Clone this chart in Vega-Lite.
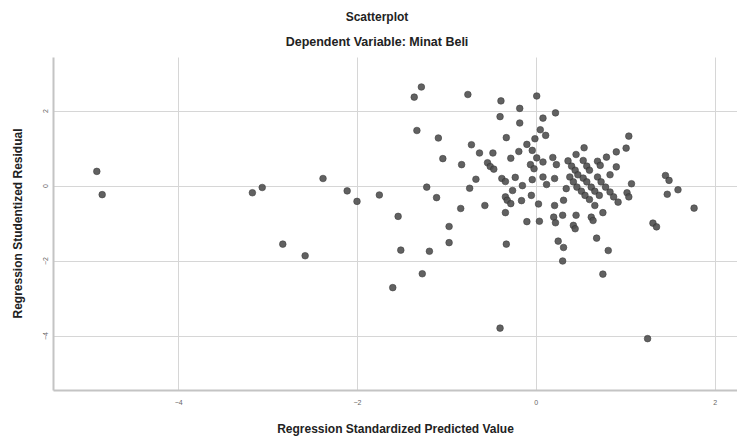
{
  "$schema": "https://vega.github.io/schema/vega-lite/v6.json",
  "autosize": "none",
  "width": 684,
  "height": 333,
  "padding": {"left": 53, "top": 57, "right": 0, "bottom": 46},
  "background": "white",
  "config": {
    "view": {"stroke": null},
    "font": "Liberation Sans"
  },
  "title": {
    "text": "Scatterplot",
    "subtitle": "Dependent Variable: Minat Beli",
    "anchor": "middle",
    "frame": "group",
    "dx": -18,
    "offset": 8,
    "fontSize": 12,
    "fontWeight": "bold",
    "color": "#222222",
    "subtitleFontSize": 12.5,
    "subtitleFontWeight": "bold",
    "subtitleColor": "#222222",
    "subtitlePadding": 12
  },
  "data": {
    "values": [
      {"x": -4.91, "y": 0.38}, {"x": -4.85, "y": -0.24}, {"x": -3.17, "y": -0.19}, {"x": -3.06, "y": -0.05},
      {"x": -2.83, "y": -1.56}, {"x": -2.58, "y": -1.87}, {"x": -2.38, "y": 0.19}, {"x": -2.11, "y": -0.14},
      {"x": -2.0, "y": -0.42}, {"x": -1.75, "y": -0.25}, {"x": -1.54, "y": -0.82}, {"x": -1.51, "y": -1.72},
      {"x": -1.6, "y": -2.72}, {"x": -1.36, "y": 2.36}, {"x": -1.33, "y": 1.47}, {"x": -1.28, "y": 2.63},
      {"x": -1.27, "y": -2.35}, {"x": -1.22, "y": -0.04}, {"x": -1.19, "y": -1.75}, {"x": -1.11, "y": -0.32},
      {"x": -1.09, "y": 1.27}, {"x": -1.04, "y": 0.72}, {"x": -0.97, "y": -1.09}, {"x": -0.97, "y": -1.52},
      {"x": -0.84, "y": -0.61}, {"x": -0.83, "y": 0.56}, {"x": -0.76, "y": 2.43}, {"x": -0.74, "y": -0.07},
      {"x": -0.72, "y": 1.09}, {"x": -0.67, "y": 0.17}, {"x": -0.63, "y": 0.87}, {"x": -0.57, "y": -0.53},
      {"x": -0.54, "y": 0.61}, {"x": -0.51, "y": 0.51}, {"x": -0.48, "y": 0.87}, {"x": -0.47, "y": 0.44},
      {"x": -0.4, "y": 1.84}, {"x": -0.39, "y": 2.26}, {"x": -0.4, "y": -3.8}, {"x": -0.38, "y": 0.19},
      {"x": -0.34, "y": 0.11}, {"x": -0.34, "y": -0.3}, {"x": -0.34, "y": -0.72}, {"x": -0.33, "y": 1.28},
      {"x": -0.33, "y": -1.56}, {"x": -0.32, "y": -0.39}, {"x": -0.28, "y": 0.73}, {"x": -0.28, "y": -0.48},
      {"x": -0.26, "y": -0.13}, {"x": -0.23, "y": 0.22}, {"x": -0.19, "y": 0.91}, {"x": -0.18, "y": 2.06},
      {"x": -0.18, "y": 1.67}, {"x": -0.16, "y": -0.4}, {"x": -0.15, "y": 0.0}, {"x": -0.1, "y": 1.1},
      {"x": -0.1, "y": -0.96}, {"x": -0.06, "y": 0.56}, {"x": -0.05, "y": -0.26}, {"x": -0.04, "y": 0.94},
      {"x": -0.04, "y": 0.16}, {"x": -0.02, "y": 0.45}, {"x": -0.01, "y": 1.25}, {"x": 0.01, "y": 2.39},
      {"x": 0.01, "y": 0.74}, {"x": 0.03, "y": -0.49}, {"x": 0.04, "y": -0.95}, {"x": 0.05, "y": 1.49},
      {"x": 0.08, "y": 1.8}, {"x": 0.08, "y": 0.63}, {"x": 0.08, "y": 0.23}, {"x": 0.11, "y": 1.34},
      {"x": 0.12, "y": 0.03}, {"x": 0.22, "y": 1.94}, {"x": 0.19, "y": 0.75}, {"x": 0.23, "y": 0.56},
      {"x": 0.21, "y": 0.19}, {"x": 0.21, "y": -0.53}, {"x": 0.31, "y": -0.39}, {"x": 0.34, "y": -0.08},
      {"x": 0.2, "y": -0.84}, {"x": 0.22, "y": -0.99}, {"x": 0.3, "y": -0.79}, {"x": 0.25, "y": -1.48},
      {"x": 0.31, "y": -1.65}, {"x": 0.3, "y": -2.01}, {"x": 0.36, "y": 0.66}, {"x": 0.38, "y": 0.23},
      {"x": 0.4, "y": 0.52}, {"x": 0.42, "y": 0.1}, {"x": 0.44, "y": 0.41}, {"x": 0.45, "y": 0.83},
      {"x": 0.46, "y": -0.04}, {"x": 0.47, "y": 0.29}, {"x": 0.42, "y": -1.06}, {"x": 0.44, "y": -1.15},
      {"x": 0.45, "y": -0.79}, {"x": 0.51, "y": -0.15}, {"x": 0.53, "y": 0.67}, {"x": 0.53, "y": 0.2},
      {"x": 0.54, "y": 1.01}, {"x": 0.55, "y": -0.26}, {"x": 0.57, "y": 0.52}, {"x": 0.57, "y": 0.1},
      {"x": 0.6, "y": 0.41}, {"x": 0.6, "y": -0.37}, {"x": 0.62, "y": -0.04}, {"x": 0.62, "y": -0.84},
      {"x": 0.64, "y": -0.93}, {"x": 0.66, "y": -0.15}, {"x": 0.66, "y": -0.53}, {"x": 0.68, "y": -1.4},
      {"x": 0.69, "y": 0.65}, {"x": 0.69, "y": 0.23}, {"x": 0.71, "y": -0.26}, {"x": 0.72, "y": 0.54},
      {"x": 0.73, "y": 0.1}, {"x": 0.75, "y": -0.72}, {"x": 0.75, "y": -2.36}, {"x": 0.78, "y": -0.04},
      {"x": 0.79, "y": 0.76}, {"x": 0.81, "y": -1.73}, {"x": 0.83, "y": 0.29}, {"x": 0.83, "y": -0.17},
      {"x": 0.87, "y": -0.3}, {"x": 0.9, "y": 0.9}, {"x": 0.9, "y": 0.5}, {"x": 0.92, "y": -0.44},
      {"x": 1.01, "y": 1.0}, {"x": 1.04, "y": 1.32}, {"x": 1.07, "y": 0.05}, {"x": 1.02, "y": -0.19},
      {"x": 1.04, "y": -0.3}, {"x": 1.25, "y": -4.08}, {"x": 1.31, "y": -1.0}, {"x": 1.35, "y": -1.1},
      {"x": 1.45, "y": 0.27}, {"x": 1.49, "y": 0.14}, {"x": 1.47, "y": -0.23}, {"x": 1.59, "y": -0.11},
      {"x": 1.77, "y": -0.6}
    ]
  },
  "mark": {"type": "circle", "size": 44, "fill": "#505050", "stroke": "#2e2e2e", "strokeWidth": 0.6, "opacity": 0.9, "clip": true},
  "encoding": {
    "x": {
      "field": "x", "type": "quantitative",
      "scale": {"domain": [-5.4, 2.25], "nice": false, "zero": false},
      "axis": {
        "title": "Regression Standardized Predicted Value",
        "values": [-4, -2, 0, 2],
        "grid": true, "gridColor": "#d6d6d6", "gridWidth": 1,
        "domainColor": "#c4c4c4", "domainWidth": 2,
        "ticks": false,
        "labelFontSize": 7, "labelColor": "#666666", "labelPadding": 8,
        "titleFontSize": 12, "titleFontWeight": "bold", "titleColor": "#222222",
        "titleBaseline": "alphabetic", "titleY": 42
      }
    },
    "y": {
      "field": "y", "type": "quantitative",
      "scale": {"domain": [-5.45, 3.43], "nice": false, "zero": false},
      "axis": {
        "title": "Regression Studentized Residual",
        "values": [-4, -2, 0, 2],
        "grid": true, "gridColor": "#d6d6d6", "gridWidth": 1,
        "domainColor": "#c4c4c4", "domainWidth": 2,
        "ticks": false,
        "labelFontSize": 7, "labelColor": "#666666", "labelPadding": 5,
        "labelAngle": -90, "labelAlign": "center", "labelBaseline": "bottom",
        "titleFontSize": 12, "titleFontWeight": "bold", "titleColor": "#222222",
        "titleX": -29, "titleY": 166, "titleBaseline": "bottom"
      }
    }
  }
}
